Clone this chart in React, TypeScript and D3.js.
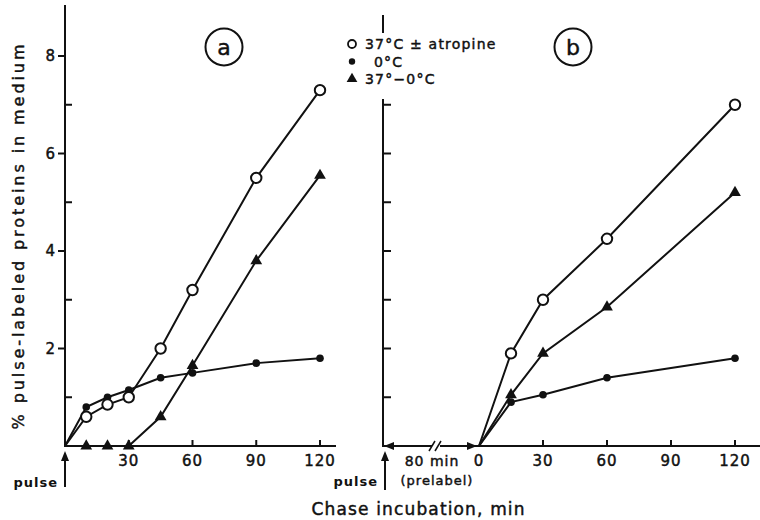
import React from "react";
import * as d3 from "d3";

const minutesA = [0, 10, 20, 30, 45, 60, 90, 120];
const warmA = [0, 0.6, 0.85, 1.0, 2.0, 3.2, 5.5, 7.3];
const coldA = [0, 0.8, 1.0, 1.15, 1.4, 1.5, 1.7, 1.8];
const diffA = [0, 0, 0, 0, 0.6, 1.65, 3.8, 5.55];

const minutesB = [0, 15, 30, 60, 120];
const warmB = [0, 1.9, 3.0, 4.25, 7.0];
const coldB = [0, 0.9, 1.05, 1.4, 1.8];
const diffB = [0, 1.05, 1.9, 2.85, 5.2];

const xTicksA = [30, 60, 90, 120];
const xTicksB = [0, 30, 60, 90, 120];
const yMajor = [2, 4, 6, 8];
const yMinor = [1, 3, 5, 7];
const yTicksB = [1, 2, 3, 4, 5, 6, 7];

const legendLabels = ["37°C ± atropine", "0°C", "37°−0°C"];

const FONT = "'DejaVu Sans', sans-serif";

type Pt = [number, number];

function Series({
  xs,
  ys,
  xScale,
  yScale,
  kind,
}: {
  xs: number[];
  ys: number[];
  xScale: d3.ScaleLinear<number, number>;
  yScale: d3.ScaleLinear<number, number>;
  kind: "open" | "dot" | "tri";
}) {
  const pts: Pt[] = xs.map((x, i) => [x, ys[i]]);
  const line = d3
    .line<Pt>()
    .x((d) => xScale(d[0]))
    .y((d) => yScale(d[1]));
  const tri = d3.symbol().type(d3.symbolTriangle).size(60)();
  return (
    <g>
      <path d={line(pts) || ""} fill="none" stroke="#111" strokeWidth={2} />
      {pts
        .filter((d) => d[0] !== 0)
        .map((d, i) => {
          const cx = xScale(d[0]);
          const cy = yScale(d[1]);
          if (kind === "open")
            return <circle key={i} cx={cx} cy={cy} r={5.2} fill="#fff" stroke="#111" strokeWidth={2} />;
          if (kind === "dot") return <circle key={i} cx={cx} cy={cy} r={3.8} fill="#111" />;
          return <path key={i} d={tri || ""} transform={`translate(${cx},${cy})`} fill="#111" />;
        })}
    </g>
  );
}

export default function App() {
  const y = d3.scaleLinear().domain([0, 8]).range([446, 56]);
  const xA = d3.scaleLinear().domain([0, 120]).range([65, 320]);
  const xB = d3.scaleLinear().domain([0, 120]).range([479, 735]);
  const y0 = y(0);

  return (
    <svg
      width={760}
      height={520}
      style={{ position: "absolute", left: 0, top: 0, background: "#fff" }}
      fontFamily={FONT}
    >
      <style>{`text{stroke:#111;stroke-width:0.45px;}`}</style>
      <rect x={0} y={0} width={760} height={520} fill="#fff" />

      {/* Panel a axes */}
      <line x1={65} y1={5} x2={65} y2={y0 + 1} stroke="#111" strokeWidth={2} />
      <line x1={64} y1={y0} x2={336} y2={y0} stroke="#111" strokeWidth={2} />
      {yMajor.map((v) => (
        <g key={v}>
          <line x1={58} x2={65} y1={y(v)} y2={y(v)} stroke="#111" strokeWidth={2} />
          <text x={55} y={y(v) + 5} textAnchor="end" fontSize={15} fill="#111">
            {v}
          </text>
        </g>
      ))}
      {yMinor.map((v) => (
        <line key={v} x1={65} x2={72} y1={y(v)} y2={y(v)} stroke="#111" strokeWidth={2} />
      ))}
      {xTicksA.map((v) => (
        <g key={v}>
          <line x1={xA(v)} x2={xA(v)} y1={y0} y2={y0 - 6} stroke="#111" strokeWidth={2} />
          <text x={xA(v)} y={y0 + 20} textAnchor="middle" fontSize={15} fill="#111" letterSpacing={1}>
            {v}
          </text>
        </g>
      ))}
      {/* pulse arrow a */}
      <line x1={65} y1={487} x2={65} y2={458} stroke="#111" strokeWidth={2} />
      <path d="M65,451 L61,461 L69,461 Z" fill="#111" />
      <text x={58} y={487} textAnchor="end" fontSize={13} fontWeight="bold" fill="#111" letterSpacing={1} style={{ strokeWidth: 0 }}>
        pulse
      </text>

      <Series xs={minutesA} ys={coldA} xScale={xA} yScale={y} kind="dot" />
      <Series xs={minutesA} ys={warmA} xScale={xA} yScale={y} kind="open" />
      <Series xs={minutesA} ys={diffA} xScale={xA} yScale={y} kind="tri" />

      {/* Panel b axes */}
      <line x1={383} y1={15} x2={383} y2={y0 + 1} stroke="#111" strokeWidth={2} />
      <line x1={383} y1={y0} x2={760} y2={y0} stroke="#111" strokeWidth={2} />
      {yTicksB.map((v) => (
        <line key={v} x1={383} x2={391} y1={y(v)} y2={y(v)} stroke="#111" strokeWidth={2} />
      ))}
      {xTicksB.map((v) => (
        <g key={v}>
          {v > 0 && <line x1={xB(v)} x2={xB(v)} y1={y0} y2={y0 - 6} stroke="#111" strokeWidth={2} />}
          <text x={xB(v)} y={y0 + 20} textAnchor="middle" fontSize={15} fill="#111" letterSpacing={1}>
            {v}
          </text>
        </g>
      ))}
      {/* prelabel double arrow with break */}
      <path d="M384,446 L394,442 L394,450 Z" fill="#111" />
      <path d="M477,446 L467,442 L467,450 Z" fill="#111" />
      <rect x={432} y={440} width={8} height={12} fill="#fff" />
      <line x1={429} y1={451} x2={435} y2={441} stroke="#111" strokeWidth={1.5} />
      <line x1={435} y1={451} x2={441} y2={441} stroke="#111" strokeWidth={1.5} />
      <text x={432} y={466} textAnchor="middle" fontSize={14} fill="#111" letterSpacing={1}>
        80 min
      </text>
      <text x={437} y={485} textAnchor="middle" fontSize={13} fill="#111" letterSpacing={1}>
        (prelabel)
      </text>
      <line x1={385} y1={490} x2={385} y2={458} stroke="#111" strokeWidth={2} />
      <path d="M385,451 L381,461 L389,461 Z" fill="#111" />
      <text x={378} y={486} textAnchor="end" fontSize={13} fontWeight="bold" fill="#111" letterSpacing={1} style={{ strokeWidth: 0 }}>
        pulse
      </text>

      <Series xs={minutesB} ys={coldB} xScale={xB} yScale={y} kind="dot" />
      <Series xs={minutesB} ys={diffB} xScale={xB} yScale={y} kind="tri" />
      <Series xs={minutesB} ys={warmB} xScale={xB} yScale={y} kind="open" />

      {/* legend */}
      <rect x={340} y={33} width={180} height={66} fill="#fff" />
      {legendLabels.map((lab, i) => {
        const ly = 44 + i * 17.5;
        const mx = 352;
        return (
          <g key={lab}>
            {i === 0 && <circle cx={mx} cy={ly} r={4} fill="#fff" stroke="#111" strokeWidth={1.8} />}
            {i === 1 && <circle cx={mx} cy={ly} r={3.2} fill="#111" />}
            {i === 2 && (
              <path d={d3.symbol().type(d3.symbolTriangle).size(50)() || ""} transform={`translate(${mx},${ly})`} fill="#111" />
            )}
            <text x={i === 1 ? 374 : 365} y={ly + 5} fontSize={14} fill="#111" letterSpacing={1.2}>
              {lab}
            </text>
          </g>
        );
      })}

      {/* panel letters */}
      <circle cx={224} cy={47} r={18.5} fill="none" stroke="#111" strokeWidth={2} />
      <text x={224} y={55} textAnchor="middle" fontSize={22} fill="#111">a</text>
      <circle cx={573} cy={47} r={18.5} fill="none" stroke="#111" strokeWidth={2} />
      <text x={573} y={55} textAnchor="middle" fontSize={22} fill="#111">b</text>

      {/* axis titles */}
      <text
        transform="translate(24,237) rotate(-90)"
        textAnchor="middle"
        fontSize={16}
        fill="#111"
        textLength={385}
        lengthAdjust="spacing"
      >
        % pulse-labeled proteins in medium
      </text>
      <text x={418} y={515} textAnchor="middle" fontSize={17} fill="#111" textLength={213} lengthAdjust="spacing">
        Chase incubation, min
      </text>
    </svg>
  );
}
